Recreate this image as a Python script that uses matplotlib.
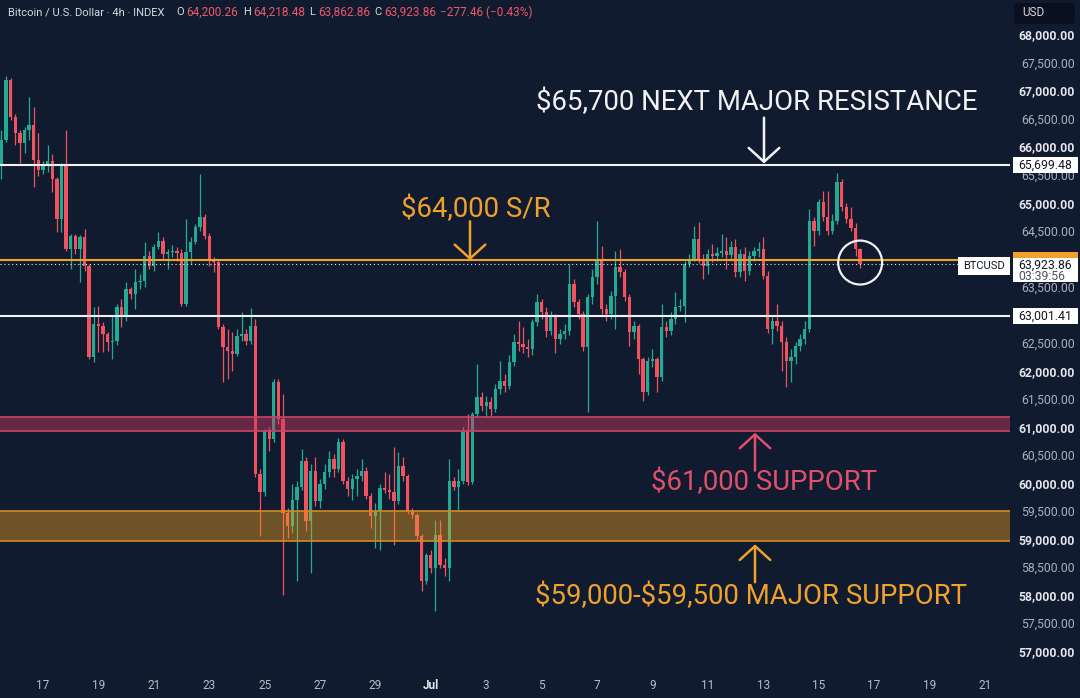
import matplotlib
matplotlib.use("Agg")
import matplotlib.pyplot as plt
from matplotlib.patches import Rectangle, FancyBboxPatch
import numpy as np

plt.rcParams['font.family'] = ['Roboto', 'DejaVu Sans']

# ---------------- data ----------------
# 4h candles; time measured in days counted from June 1 (Jul 1 = 31)
first_candle_day = 15.5          # June 15, 12:00
first_open = 65671
closes = [66151, 67218, 66560, 66275, 66097, 66329, 66418, 65795, 65617, 65671,
          65760, 65440, 64728, 65671, 64195, 64426, 64195, 64408, 63893, 62275,
          62862, 62826, 62684, 62541, 62559, 63164, 62986, 63484, 63395, 63608,
          63626, 64070, 63893, 64231, 64337, 64106, 64142, 64159, 64124, 63217,
          64142, 64319, 64586, 64764, 64426, 63982, 63964, 62808, 62453, 62382,
          62328, 62648, 62684, 62559, 62826, 60195, 59875, 60959, 60817, 61830,
          61172, 59483, 59252, 59715, 59963, 60426, 59341, 60248, 59697, 60017,
          60230, 60461, 60283, 60763, 60070, 59928, 60106, 60159, 60248, 59803,
          59430, 59519, 59946, 59910, 59875, 59697, 60337, 60159, 59519, 59448,
          59074, 58274, 58736, 58505, 59092, 58559, 58505, 60070, 59963, 60070,
          60959, 60052, 61261, 61564, 61404, 61475, 61350, 61706, 61848, 61759,
          62186, 62541, 62506, 62453, 62417, 62897, 63253, 63075, 62737, 62986,
          62595, 62684, 62737, 63573, 63253, 63039, 62453, 63342, 63697, 63982,
          63128, 63039, 63359, 63875, 63786, 63342, 62719, 62826, 62239, 61653,
          62204, 62239, 61919, 62808, 62737, 62950, 63164, 63182, 63928, 64017,
          64373, 64017, 63893, 64106, 64070, 64124, 64159, 64088, 64231, 63786,
          64106, 63804, 64070, 64159, 64195, 63715, 62773, 62915, 62826, 62541,
          62204, 62275, 62470, 62595, 62773, 64693, 64515, 65031, 64764, 64515,
          64693, 65386, 64942, 64728, 64568, 64200.26, 63923.86]
highs = [66329, 67290, 67250, 66600, 66329, 66380, 66915, 66738, 66275, 65760,
         66062, 65900, 65475, 65742, 66329, 64462, 64462, 64444, 64551, 63928,
         63164, 63182, 62897, 62719, 63004, 63217, 63306, 63608, 63520, 63839,
         63750, 64319, 64159, 64284, 64497, 64408, 64195, 64266, 64231, 64195,
         64728, 64408, 64640, 65529, 64817, 64480, 64053, 64017, 62862, 62773,
         62719, 62773, 63075, 62773, 63146, 62950, 60283, 60995, 61030, 61883,
         61883, 61617, 59572, 60017, 60070, 60640, 60497, 60372, 60497, 60106,
         60372, 60603, 60550, 60835, 60817, 60141, 60195, 60283, 60461, 60319,
         59840, 59662, 60017, 60230, 60195, 60675, 60586, 60497, 60195, 59572,
         59483, 59110, 58772, 58825, 59359, 59359, 58683, 60461, 60141, 60283,
         61030, 61261, 61297, 62150, 61653, 61582, 61564, 61795, 62204, 61972,
         62310, 62684, 62915, 62808, 62595, 62950, 63395, 63306, 63164, 63093,
         63039, 62773, 62862, 63928, 63662, 63306, 63093, 63395, 63839, 64693,
         64248, 63217, 63448, 64159, 64195, 63839, 63395, 62915, 62862, 62275,
         62275, 62417, 62275, 63217, 62915, 63075, 63431, 63306, 63982, 64106,
         64604, 64675, 64106, 64195, 64284, 64231, 64462, 64408, 64337, 64373,
         64195, 64231, 64159, 64231, 64319, 64408, 63804, 62986, 63217, 62915,
         62630, 62417, 62541, 62684, 62915, 64906, 64764, 65084, 65226, 65226,
         64817, 65546, 65440, 65013, 64942, 64657, 64218.48]
lows = [65440, 66115, 66500, 66062, 65742, 65920, 66151, 65297, 65493, 65530,
        65580, 65209, 64497, 64497, 64159, 63839, 64106, 63608, 63804, 62239,
        62186, 62364, 62364, 62382, 62239, 62488, 62808, 62915, 63306, 63128,
        63484, 63520, 63839, 63804, 64195, 64017, 63839, 64053, 63982, 63182,
        63182, 63928, 64284, 64515, 64373, 63893, 63786, 62773, 61830, 61883,
        62026, 62292, 62559, 62488, 62506, 60141, 59074, 59786, 60603, 60763,
        61083, 58025, 59039, 59128, 58274, 59893, 59163, 58417, 59608, 59572,
        59928, 60141, 60141, 60230, 60000, 59786, 59715, 59803, 60070, 59750,
        59217, 58861, 58825, 59840, 59750, 58914, 59644, 60070, 59466, 59395,
        59003, 58096, 58220, 58417, 57741, 58505, 58363, 58274, 59893, 59519,
        60017, 59999, 60017, 61208, 61315, 61208, 61226, 61297, 61617, 61653,
        61706, 62115, 62382, 62346, 62275, 62310, 62826, 62950, 62630, 62666,
        62346, 62506, 62595, 62666, 63164, 62950, 62382, 61297, 63217, 63573,
        63039, 62915, 62950, 62773, 63697, 63270, 62470, 62595, 61972, 61492,
        61600, 62097, 61653, 61848, 62630, 62666, 62862, 63093, 62897, 63875,
        63982, 63946, 63662, 63751, 63964, 63982, 64053, 63839, 63982, 63697,
        63697, 63626, 63733, 63982, 64053, 63662, 62702, 62506, 62737, 62026,
        61741, 61830, 62150, 62382, 62506, 62719, 64248, 64444, 64693, 64444,
        64462, 64640, 64871, 64657, 64515, 64070, 63862.86]

resistance_next = 65699.48
sr_level = 64000
support_line = 63001.41
last_price = 63923.86
support_band = (60960, 61200)
major_band = (59000, 59520)

price_ticks = list(range(57000, 68001, 500))
hidden_ticks = [64000, 63000]          # covered by the price boxes
date_ticks = [17, 19, 21, 23, 25, 27, 29, 31, 33, 35, 37, 39, 41, 43, 45, 47, 49, 51]
date_labels = ['17', '19', '21', '23', '25', '27', '29', 'Jul', '3', '5', '7', '9',
               '11', '13', '15', '17', '19', '21']

header_parts = [("Bitcoin / U.S. Dollar · 4h · INDEX", 'w', 8), ("O", 'w', 176),
                ("64,200.26", 'r', 186), ("H", 'w', 243), ("64,218.48", 'r', 253),
                ("L", 'w', 309), ("63,862.86", 'r', 318), ("C", 'w', 374),
                ("63,923.86", 'r', 384), ("−277.46 (−0.43%)", 'r', 440)]

# ---------------- styling ----------------
BG = '#111b2f'
UP = '#22ab94'
DOWN = '#f0525f'
WHITE = '#f2f2f2'
ORANGE = '#f0a12c'
PINK = '#e04f6c'

W, H = 1080, 698
fig = plt.figure(figsize=(W / 100, H / 100), dpi=100, facecolor=BG)
ax = fig.add_axes([0, 27 / H, 1010 / W, 1 - 27 / H], facecolor=BG)
ax.set_xlim(15.448, 51.91)
ax.set_ylim(56674, 68640)
for s in ax.spines.values():
    s.set_visible(False)
ax.set_yticks([])

n = len(closes)
days = first_candle_day + np.arange(n) / 6.0
c = np.array(closes, float)
o = np.concatenate([[first_open], c[:-1]])
hi = np.maximum(np.array(highs, float), np.maximum(o, c))
lo = np.minimum(np.array(lows, float), np.minimum(o, c))
up = c >= o
cols = np.where(up, UP, DOWN)

ax.vlines(days, lo, hi, colors=cols, linewidth=0.9, zorder=3)
body_h = np.maximum(np.abs(c - o), 15)
ax.bar(days, body_h, bottom=np.minimum(o, c), width=0.12, color=cols,
       linewidth=0, zorder=4)

# bands (semi-transparent over candles)
ax.axhspan(*support_band, facecolor='#d03a62', alpha=0.45, linewidth=0, zorder=5)
for yv in support_band:
    ax.axhline(yv, color='#c84468', lw=1.2, zorder=5)
ax.axhspan(*major_band, facecolor='#f0a020', alpha=0.42, linewidth=0, zorder=5)
for yv in major_band:
    ax.axhline(yv, color='#d28a22', lw=1.2, zorder=5)

# horizontal levels
ax.axhline(resistance_next, color=WHITE, lw=1.5, zorder=6)
ax.axhline(support_line, color=WHITE, lw=1.5, zorder=6)
ax.axhline(sr_level, color=ORANGE, lw=1.5, zorder=6)
ax.axhline(last_price, color='#e8e8e8', lw=0.8, ls=(0, (1, 2.5)), zorder=6)

# circle around last candle
ax.scatter([days[-1]], [63958], s=1000, facecolors='none', edgecolors=WHITE,
           linewidths=1.6, zorder=7)

# annotation texts
def d(px):
    return 17 + (px - 43) / 27.7

def p(py):
    return 68640 - 17.78 * py

FS = 19.8
ax.text(d(757), p(103), "\\$65,700 NEXT MAJOR RESISTANCE", color=WHITE, fontsize=FS,
        ha='center', va='center', zorder=8)
ax.text(d(476), p(210), "\\$64,000 S/R", color=ORANGE, fontsize=FS,
        ha='center', va='center', zorder=8)
ax.text(d(764), p(484), "\\$61,000 SUPPORT", color=PINK, fontsize=FS,
        ha='center', va='center', zorder=8)
ax.text(d(751), p(598), "\\$59,000-\\$59,500 MAJOR SUPPORT", color=ORANGE, fontsize=FS,
        ha='center', va='center', zorder=8)

def arrow(xpx, y_tail, y_tip, color):
    ax.annotate('', xy=(d(xpx), p(y_tip)), xytext=(d(xpx), p(y_tail)),
                arrowprops=dict(arrowstyle='->,head_length=0.5,head_width=0.55',
                                color=color, lw=1.8, mutation_scale=20,
                                shrinkA=0, shrinkB=0), zorder=8)

arrow(764, 118, 164, WHITE)
arrow(470, 222, 261, ORANGE)
arrow(755, 472, 434, PINK)
arrow(755, 584, 546, ORANGE)

# x axis
ax.set_xticks(date_ticks)
ax.set_xticklabels(date_labels)
ax.tick_params(axis='x', length=0, pad=6, labelsize=8.5, labelcolor='#b8bcc6')
for lbl in ax.get_xticklabels():
    if lbl.get_text() == 'Jul':
        lbl.set_fontweight('bold')
        lbl.set_color('#e6e8ee')

# right price axis
trans = ax.get_yaxis_transform()
for pt in price_ticks:
    if pt in hidden_ticks:
        continue
    bold = pt % 1000 == 0
    ax.text(1075 / 1010, pt, f"{pt:,.2f}", transform=trans, ha='right', va='center',
            fontsize=8.8, color='#e4e6ec' if bold else '#aab0bd',
            fontweight='bold' if bold else 'normal', clip_on=False, zorder=2)

def price_box(val, text):
    ax.add_patch(Rectangle((1013 / 1010, val - 8 * 17.78), 65 / 1010, 16 * 17.78,
                           transform=trans, facecolor='white', edgecolor='none',
                           clip_on=False, zorder=11))
    ax.text(1018 / 1010, val, text, transform=trans, ha='left', va='center',
            fontsize=8.8, color='#131722', clip_on=False, zorder=12)

price_box(resistance_next, "65,699.48")
price_box(support_line, "63,001.41")

# current price label
ax.add_patch(Rectangle((1013 / 1010, p(259)), 65 / 1010, p(253) - p(259), transform=trans,
                       facecolor=ORANGE, edgecolor='none', clip_on=False, zorder=11))
ax.add_patch(Rectangle((1013 / 1010, p(283)), 65 / 1010, p(259) - p(283), transform=trans,
                       facecolor='white', edgecolor='none', clip_on=False, zorder=12))
ax.text(1018 / 1010, p(266.5), "63,923.86", transform=trans, ha='left', va='center',
        fontsize=8.8, color='#131722', clip_on=False, zorder=13)
ax.text(1018 / 1010, p(277.5), "03:39:56", transform=trans, ha='left', va='center',
        fontsize=8.8, color='#50535e', clip_on=False, zorder=13)
ax.add_patch(Rectangle((958 / 1010, p(276)), 52 / 1010, p(258) - p(276), transform=trans,
                       facecolor='white', edgecolor='none', clip_on=False, zorder=12))
ax.text(984 / 1010, p(267), "BTCUSD", transform=trans, ha='center', va='center',
        fontsize=8, color='#131722', clip_on=False, zorder=13)

# USD box
fig.patches.append(FancyBboxPatch((1014 / W, 1 - 24 / H), 61 / W, 21 / H,
                                  boxstyle='round,pad=0,rounding_size=0.004',
                                  transform=fig.transFigure, facecolor='#0a1020',
                                  edgecolor='none'))
fig.text(1022 / W, 1 - 13 / H, "USD", color='#d1d4dc', fontsize=8.5, va='center', ha='left')

# header
for txt, kind, xpx in header_parts:
    fig.text(xpx / W, 1 - 12 / H, txt, fontsize=8.0 if kind == 'w' else 8.5,
             va='center', ha='left',
             color='#d6d9e0' if kind == 'w' else '#f0566b')

fig.savefig("out.png", dpi=100, facecolor=BG)
